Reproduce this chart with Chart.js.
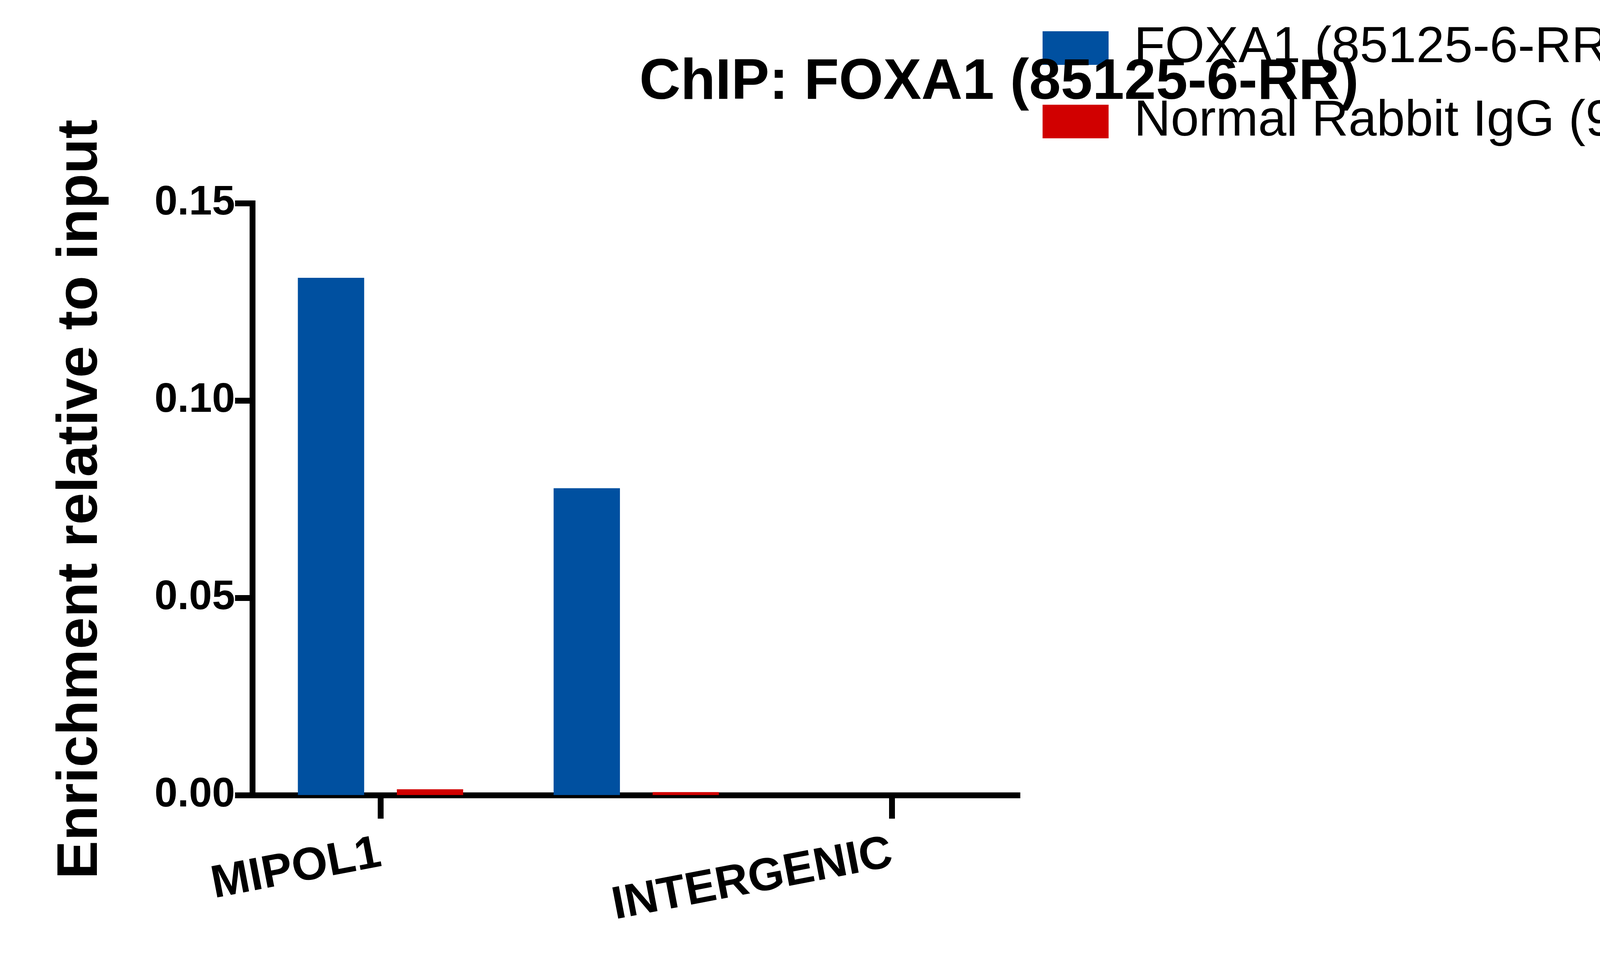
<!DOCTYPE html>
<html><head><meta charset="utf-8">
<script src="https://cdn.jsdelivr.net/npm/chart.js@4/dist/chart.umd.min.js"></script>
<style>html,body{margin:0;padding:0;background:#fff}</style>
</head><body>
<canvas id="c" width="5000" height="2503"></canvas>
<script>
const categories = ["MIPOL1", "FGB", "INTERGENIC"];
const foxa1Values = [0.1311, 0.0778, 0];
const iggValues = [0.0015, 0.0008, 0];
const yTicks = [0, 0.05, 0.10, 0.15];
const FONT = "'Liberation Sans', Arial, sans-serif";
const LEGEND_WIDTH = 2389;

const legendWidthPlugin = {
  id: 'legendWidth',
  afterInit(chart) {
    const lg = chart.legend;
    if (!lg) return;
    const fit = lg.fit.bind(lg);
    lg.fit = function () { fit(); this.width = LEGEND_WIDTH; };
  }
};

new Chart(document.getElementById('c'), {
  type: 'bar',
  data: {
    labels: categories,
    datasets: [
      { label: 'FOXA1 (85125-6-RR)', data: foxa1Values, backgroundColor: '#0050A0' },
      { label: 'Normal Rabbit IgG (98136-1-RR)', data: iggValues, backgroundColor: '#D10000' }
    ]
  },
  plugins: [legendWidthPlugin],
  options: {
    responsive: false, devicePixelRatio: 1, animation: false,
    categoryPercentage: 0.774, barPercentage: 0.67,
    layout: { padding: { left: 115, right: 0, top: 0, bottom: 94 } },
    plugins: {
      title: { display: true, text: 'ChIP: FOXA1 (85125-6-RR)', color: '#000',
        font: { family: FONT, size: 146, weight: 'bold' }, padding: { top: 125, bottom: 220 } },
      legend: { position: 'right', align: 'start',
        labels: { boxWidth: 169, boxHeight: 86, color: '#000', padding: 58,
          font: { family: FONT, size: 130 } } },
      tooltip: { enabled: false }
    },
    scales: {
      x: {
        grid: { offset: false, drawOnChartArea: false, tickLength: 60, tickWidth: 15, tickColor: '#000' },
        border: { color: '#000', width: 15 },
        ticks: { color: '#000', padding: 19, font: { family: FONT, size: 118, weight: 'bold' } }
      },
      y: {
        min: 0, max: 0.15,
        afterBuildTicks: s => { s.ticks = yTicks.map(v => ({ value: v })); },
        grid: { drawOnChartArea: false, tickLength: 45, tickWidth: 15, tickColor: '#000' },
        border: { color: '#000', width: 15 },
        ticks: { color: '#000', padding: 0, callback: v => Number(v).toFixed(2),
          font: { family: FONT, size: 106, weight: 'bold' } },
        title: { display: true, text: 'Enrichment relative to input', color: '#000',
          padding: { top: 4, bottom: 100 }, font: { family: FONT, size: 147, weight: 'bold' } }
      }
    }
  }
});
</script>
</body></html>
